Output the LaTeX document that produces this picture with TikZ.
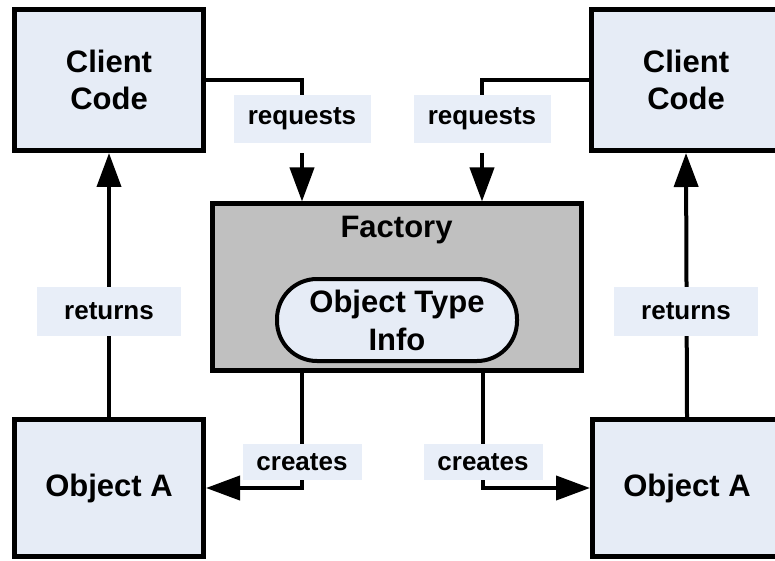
\documentclass[tikz,border=0pt]{standalone}
\usepackage{fontspec}
\setmainfont{Liberation Sans}
\usetikzlibrary{arrows.meta,calc}
\definecolor{boxfill}{RGB}{230,236,246}
\definecolor{tagfill}{RGB}{232,238,248}
\definecolor{factoryfill}{RGB}{192,192,192}

\begin{document}
\begin{tikzpicture}[x=1pt,y=-1pt,
  block/.style={draw, line width=5pt, fill=boxfill, minimum width=189pt, align=center,
    font=\fontsize{31}{37}\selectfont\bfseries},
  tag/.style={fill=tagfill, inner sep=0pt, minimum height=48pt,
    font=\fontsize{26}{30}\selectfont\bfseries},
  conn/.style={line width=4pt},
  tip/.style={-{Triangle[length=34pt,width=24pt]}}]

\useasboundingbox (0,0) rectangle (775,561);
\clip (0,0) rectangle (775,561);

\node[block, minimum height=141pt] (clientL) at (109,80) {Client\\Code};
\node[block, minimum height=141pt] (clientR) at (686,80) {Client\\Code};

\node[block, minimum height=137pt] (objL) at (109,488) {Object A};
\node[block, minimum height=137pt] (objR) at (687,488) {Object A};

\node[draw, line width=5pt, fill=factoryfill, minimum width=369pt, minimum height=166pt] (fac) at (396.5,287) {};
\node[font=\fontsize{31}{37}\selectfont\bfseries, anchor=base] (facname) at (396.5,237) {Factory};
\node[draw, line width=4pt, fill=boxfill, rounded corners=40pt, minimum width=240pt, minimum height=82pt,
  align=center, font=\fontsize{31}{38}\selectfont\bfseries] (info) at (397,320) {Object Type\\Info};

\coordinate (reqLx) at (302,119);
\coordinate (reqRx) at (482,119);

\draw[conn] (clientL.east) -| (reqLx |- 0,95);
\draw[conn] (clientR.west) -| (reqRx |- 0,95);
\node[tag, minimum width=137pt] (reqL) at (reqLx) {requests};
\node[tag, minimum width=137pt] (reqR) at (reqRx) {requests};
\draw[conn, tip] ([yshift=-10pt]reqL.south) -- (reqL.south |- fac.north);
\draw[conn, tip] ([yshift=-10pt]reqR.south) -- (reqR.south |- fac.north);

\draw[conn, tip] (objL.north) -- (clientL.south);
\draw[conn, tip] (objR.north) -- (clientR.south);
\node[tag, minimum width=144pt, minimum height=49pt] (retL) at (109,311.5) {returns};
\node[tag, minimum width=144pt, minimum height=49pt] (retR) at (686,311.5) {returns};

\coordinate (creLx) at (302,462);
\coordinate (creRx) at (483,462);
\draw[conn, tip] (fac.south -| creLx) |- (objL.west -| objL.east);
\draw[conn, tip] (fac.south -| creRx) |- (objR.west);
\node[tag, minimum width=119pt, minimum height=36pt] (creL) at (creLx) {creates};
\node[tag, minimum width=119pt, minimum height=36pt] (creR) at (creRx) {creates};

\end{tikzpicture}
\end{document}
